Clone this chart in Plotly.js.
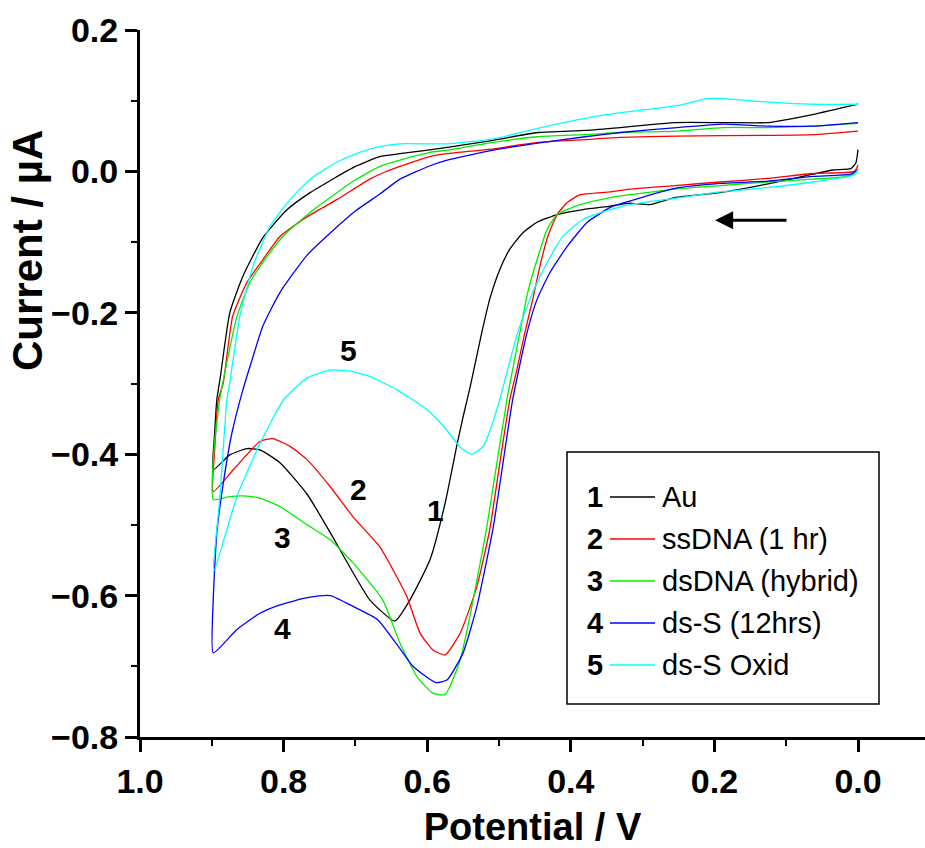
<!DOCTYPE html>
<html>
<head>
<meta charset="utf-8">
<script src="https://cdn.plot.ly/plotly-3.0.1.min.js"></script>
<style>html,body{margin:0;padding:0;background:#fff;}#chart{width:925px;height:848px;}</style>
</head>
<body>
<div id="chart"></div>
<script>
// Potential (V) and current (µA), forward (to 0.9 V) and return scans
const auFwdV = [0.0,0.003,0.01,0.035,0.063,0.127,0.192,0.255,0.29,0.318,0.345,0.383,0.419,0.447,0.467,0.485,0.499,0.513,0.524,0.54,0.55,0.558,0.575,0.596,0.624,0.645,0.68,0.703,0.735,0.767,0.805,0.833,0.851,0.875,0.898];
const auFwdI = [0.031,0.012,0.004,0.002,-0.004,-0.018,-0.03,-0.037,-0.047,-0.045,-0.049,-0.054,-0.061,-0.072,-0.087,-0.11,-0.139,-0.181,-0.228,-0.304,-0.347,-0.384,-0.469,-0.549,-0.606,-0.636,-0.606,-0.568,-0.511,-0.457,-0.412,-0.394,-0.392,-0.401,-0.422];
const auRevV = [0.896,0.893,0.888,0.875,0.857,0.829,0.795,0.763,0.70,0.666,0.638,0.572,0.508,0.446,0.38,0.331,0.255,0.188,0.125,0.095,0.06,0.0];
const auRevI = [-0.37,-0.323,-0.29,-0.2,-0.149,-0.094,-0.054,-0.03,0.007,0.021,0.025,0.034,0.044,0.055,0.058,0.062,0.069,0.069,0.069,0.074,0.081,0.095];

const ssFwdV = [0.0,0.005,0.063,0.127,0.192,0.255,0.318,0.345,0.387,0.405,0.419,0.432,0.443,0.453,0.464,0.475,0.485,0.497,0.513,0.531,0.554,0.575,0.592,0.61,0.628,0.642,0.666,0.703,0.735,0.767,0.791,0.815,0.833,0.87,0.898];
const ssFwdI = [0.009,0.0,-0.003,-0.01,-0.015,-0.02,-0.025,-0.029,-0.033,-0.044,-0.061,-0.092,-0.134,-0.181,-0.228,-0.28,-0.323,-0.40,-0.507,-0.588,-0.653,-0.684,-0.677,-0.653,-0.602,-0.574,-0.531,-0.489,-0.446,-0.408,-0.389,-0.378,-0.382,-0.422,-0.453];
const ssRevV = [0.896,0.891,0.884,0.871,0.851,0.829,0.805,0.767,0.726,0.68,0.666,0.638,0.596,0.572,0.508,0.446,0.38,0.331,0.252,0.125,0.063,0.0];
const ssRevI = [-0.394,-0.323,-0.299,-0.205,-0.157,-0.125,-0.092,-0.064,-0.04,-0.011,-0.004,0.007,0.021,0.025,0.032,0.041,0.045,0.048,0.05,0.051,0.052,0.057];

const dsFwdV = [0.0,0.01,0.063,0.127,0.192,0.255,0.318,0.345,0.387,0.419,0.433,0.447,0.46,0.471,0.489,0.517,0.536,0.554,0.575,0.592,0.614,0.638,0.662,0.703,0.735,0.767,0.805,0.833,0.857,0.875,0.898];
const dsFwdI = [0.003,-0.006,-0.011,-0.015,-0.02,-0.025,-0.033,-0.037,-0.047,-0.061,-0.082,-0.125,-0.171,-0.228,-0.323,-0.503,-0.606,-0.691,-0.74,-0.738,-0.715,-0.667,-0.606,-0.554,-0.521,-0.5,-0.474,-0.462,-0.459,-0.46,-0.464];
const dsRevV = [0.897,0.889,0.879,0.865,0.847,0.829,0.801,0.763,0.703,0.666,0.638,0.596,0.572,0.508,0.446,0.38,0.331,0.252,0.188,0.125,0.063,0.0];
const dsRevI = [-0.394,-0.323,-0.27,-0.205,-0.157,-0.129,-0.092,-0.058,-0.014,0.007,0.016,0.027,0.03,0.041,0.049,0.052,0.055,0.057,0.062,0.062,0.064,0.068];

const dsSFwdV = [0.0,0.01,0.063,0.127,0.192,0.255,0.318,0.345,0.377,0.405,0.429,0.447,0.461,0.481,0.508,0.531,0.55,0.572,0.588,0.62,0.638,0.669,0.702,0.735,0.767,0.805,0.833,0.865,0.898];
const dsSFwdI = [0.003,-0.004,-0.007,-0.014,-0.017,-0.024,-0.042,-0.051,-0.072,-0.106,-0.143,-0.181,-0.228,-0.323,-0.503,-0.616,-0.681,-0.719,-0.723,-0.70,-0.675,-0.634,-0.616,-0.60,-0.603,-0.613,-0.625,-0.648,-0.681];
const dsSRevV = [0.898,0.893,0.884,0.872,0.857,0.845,0.829,0.805,0.767,0.735,0.70,0.666,0.638,0.596,0.572,0.508,0.446,0.38,0.331,0.252,0.188,0.125,0.063,0.0];
const dsSRevI = [-0.606,-0.511,-0.441,-0.37,-0.31,-0.27,-0.219,-0.171,-0.118,-0.087,-0.056,-0.032,-0.011,0.008,0.016,0.03,0.04,0.049,0.055,0.062,0.067,0.064,0.064,0.069];

const oxFwdV = [0.0,0.005,0.063,0.127,0.192,0.255,0.318,0.345,0.383,0.411,0.433,0.453,0.474,0.499,0.513,0.522,0.538,0.554,0.575,0.60,0.642,0.68,0.708,0.735,0.767,0.80,0.833,0.865,0.898];
const oxFwdI = [0.003,-0.005,-0.015,-0.023,-0.029,-0.038,-0.047,-0.054,-0.068,-0.092,-0.129,-0.171,-0.228,-0.323,-0.368,-0.389,-0.40,-0.39,-0.363,-0.337,-0.309,-0.29,-0.282,-0.281,-0.292,-0.323,-0.385,-0.46,-0.568];
const oxRevV = [0.889,0.879,0.875,0.861,0.843,0.819,0.791,0.763,0.726,0.694,0.666,0.638,0.572,0.508,0.446,0.38,0.331,0.252,0.21,0.188,0.125,0.063,0.0];
const oxRevI = [-0.464,-0.323,-0.299,-0.205,-0.135,-0.078,-0.04,-0.011,0.013,0.027,0.035,0.039,0.039,0.046,0.061,0.075,0.083,0.093,0.103,0.103,0.098,0.095,0.095];

const seriesNames = ['Au','ssDNA (1 hr)','dsDNA (hybrid)','ds-S (12hrs)','ds-S Oxid'];
const seriesNumbers = ['1','2','3','4','5'];
const seriesColors = ['#000000','#ff0000','#00ee00','#0000ff','#00ffff'];
// curve label positions [V, µA]
const labelV = [0.589,0.696,0.801,0.801,0.709];
const labelI = [-0.479,-0.450,-0.518,-0.646,-0.253];
// scan direction arrow (tail -> head)
const arrowTailV = 0.0975, arrowHeadV = 0.199, arrowI = -0.069;

const fwdV = [auFwdV, ssFwdV, dsFwdV, dsSFwdV, oxFwdV];
const fwdI = [auFwdI, ssFwdI, dsFwdI, dsSFwdI, oxFwdI];
const revV = [auRevV, ssRevV, dsRevV, dsSRevV, oxRevV];
const revI = [auRevI, ssRevI, dsRevI, dsSRevI, oxRevI];

const FONT = 'Liberation Sans, Arial, sans-serif';

const traces = seriesNames.map((n, k) => ({
  type: 'scatter', mode: 'lines', name: n,
  x: fwdV[k].concat(revV[k]), y: fwdI[k].concat(revI[k]),
  line: {color: seriesColors[k], width: 1.3, shape: 'spline', smoothing: 0.5},
  showlegend: false
}));

// plot-area pixel helpers for legend placement (paper coords)
const PL = 140, PW = 785, PB = 737, PH = 707;
const px2x = p => (p - PL) / PW;
const py2y = p => (PB - p) / PH;

const annotations = [];
const shapes = [];
seriesNumbers.forEach((t, k) => {
  annotations.push({x: labelV[k], y: labelI[k], xref: 'x', yref: 'y', text: t, showarrow: false,
    xanchor: 'center', yanchor: 'middle',
    font: {family: FONT, size: 30, color: '#000', weight: 700}});
});
// legend box
shapes.push({type: 'rect', xref: 'paper', yref: 'paper',
  x0: px2x(567), x1: px2x(879), y0: py2y(704), y1: py2y(452),
  line: {color: '#000', width: 1.5}, fillcolor: 'rgba(0,0,0,0)'});
const legY = [497, 539, 581, 623, 665];
legY.forEach((py, k) => {
  annotations.push({x: px2x(595), y: py2y(py), xref: 'paper', yref: 'paper', xanchor: 'center', yanchor: 'middle',
    text: seriesNumbers[k], showarrow: false, font: {family: FONT, size: 29, color: '#000', weight: 700}});
  shapes.push({type: 'line', xref: 'paper', yref: 'paper', x0: px2x(610), x1: px2x(655), y0: py2y(py), y1: py2y(py),
    line: {color: seriesColors[k], width: 1.5}});
  annotations.push({x: px2x(660), y: py2y(py), xref: 'paper', yref: 'paper', xanchor: 'left', yanchor: 'middle',
    text: seriesNames[k], showarrow: false, font: {family: FONT, size: 29, color: '#000'}});
});
// y title
annotations.push({x: px2x(27), y: py2y(251), xref: 'paper', yref: 'paper', xanchor: 'center', yanchor: 'middle',
  text: 'Current / µA', textangle: -90, showarrow: false,
  font: {family: FONT, size: 42, color: '#000', weight: 700}});
// arrow
annotations.push({x: arrowHeadV, y: arrowI, ax: arrowTailV, ay: arrowI, xref: 'x', yref: 'y', axref: 'x', ayref: 'y',
  text: '', showarrow: true, arrowhead: 2, arrowsize: 1.2, arrowwidth: 3, arrowcolor: '#000'});

const layout = {
  width: 925, height: 848, autosize: false,
  margin: {l: 140, r: 0, t: 30, b: 111, pad: 0},
  paper_bgcolor: '#fff', plot_bgcolor: '#fff',
  showlegend: false,
  xaxis: {
    range: [1.0, -0.0933], tick0: 0, dtick: 0.2, tickformat: '.1f',
    showline: true, linewidth: 3, linecolor: '#000', mirror: false,
    ticks: 'outside', ticklen: 12, tickwidth: 3, tickcolor: '#000',
    minor: {dtick: 0.1, ticks: 'outside', ticklen: 6, tickwidth: 2, tickcolor: '#000', showgrid: false},
    showgrid: false, zeroline: false,
    tickfont: {family: FONT, size: 34, color: '#000', weight: 700},
    title: {text: 'Potential / V', standoff: 18, font: {family: FONT, size: 38, color: '#000', weight: 700}}
  },
  yaxis: {
    range: [-0.8, 0.2], tick0: 0, dtick: 0.2, tickformat: '.1f',
    showline: true, linewidth: 3, linecolor: '#000', mirror: false,
    ticks: 'outside', ticklen: 12, tickwidth: 3, tickcolor: '#000',
    minor: {dtick: 0.1, ticks: 'outside', ticklen: 6, tickwidth: 2, tickcolor: '#000', showgrid: false},
    showgrid: false, zeroline: false,
    tickfont: {family: FONT, size: 34, color: '#000', weight: 700}
  },
  shapes: shapes,
  annotations: annotations
};

Plotly.newPlot('chart', traces, layout, {staticPlot: true, displayModeBar: false});
</script>
</body>
</html>
